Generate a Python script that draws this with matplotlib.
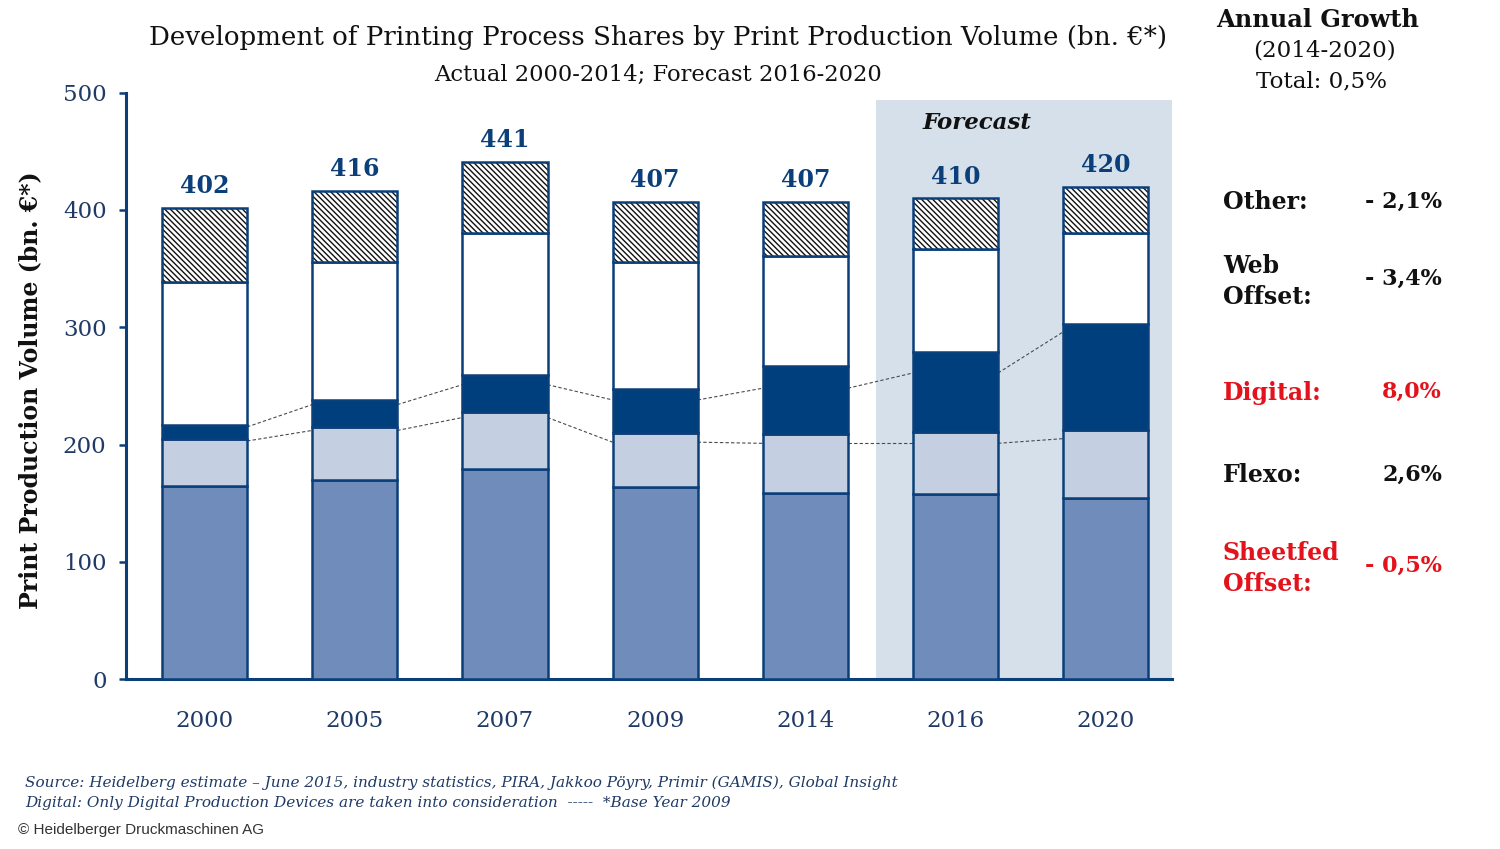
"""Printing process shares by print production volume, 2000-2020."""

import matplotlib.pyplot as plt
import numpy as np

# --- data (bn. EUR) ---
years = ["2000", "2005", "2007", "2009", "2014", "2016", "2020"]
sheetfed = [165, 170, 179, 164, 159, 158, 154]
flexo = [40, 45, 49, 46, 50, 53, 58]
digital = [12, 23, 31, 37, 58, 68, 91]
web_offset = [122, 118, 121, 109, 94, 88, 77]
other = [63, 60, 61, 51, 46, 43, 40]
totals = [402, 416, 441, 407, 407, 410, 420]

# hand-drawn dashed guide lines between bars
digital_guide = [215, 234, 251, 238, 248, 261, 296]
flexo_guide = [203, 212, 223, 202, 201, 201, 205]

forecast_start = 5  # index of first forecast year

growth_labels = ["Other:", "Web\nOffset:", "Digital:", "Flexo:", "Sheetfed\nOffset:"]
growth_values = ["- 2,1%", "- 3,4%", "8,0%", "2,6%", "- 0,5%"]
growth_highlight = [False, False, True, False, True]

NAVY = "#0b3f7a"
DIGITAL = "#003f7d"
SHEETFED = "#6f8cba"
FLEXO = "#c4d0e2"
FORECAST_BG = "#d6e0ea"
LABEL = "#1f3a66"
RED = "#e3121b"

plt.rcParams["font.family"] = ["DejaVu Serif"]
plt.rcParams["hatch.linewidth"] = 1.0

fig = plt.figure(figsize=(15, 8.49), dpi=100)
ax = fig.add_axes([0.084, 0.2002, 0.6973, 0.6906])

x = np.arange(len(years))
width = 0.567
xlim = (-0.523, 6.441)

# forecast shading
ax.axvspan(forecast_start - 0.531, xlim[1], ymax=494 / 500, color=FORECAST_BG, lw=0, zorder=0)
ax.text(forecast_start + 0.14, 474, "Forecast", ha="center", va="center",
        fontsize=16.5, fontweight="bold", fontstyle="italic", color="#111111")

bottom = np.zeros(len(years))
for values, color in [(sheetfed, SHEETFED), (flexo, FLEXO), (digital, DIGITAL), (web_offset, "white")]:
    ax.bar(x, values, width, bottom=bottom, color=color, edgecolor=NAVY, linewidth=1.8, zorder=3)
    bottom += np.array(values)

# hatched "other" segment: hatch in black, outline in navy
ax.bar(x, other, width, bottom=bottom, color="white", edgecolor="#111111", hatch="\\" * 6,
       linewidth=0, zorder=3)
ax.bar(x, other, width, bottom=bottom, fill=False, edgecolor=NAVY, linewidth=1.8, zorder=4)

# dashed guides
for guide in (digital_guide, flexo_guide):
    for i in range(len(years) - 1):
        ax.plot([x[i] + width / 2, x[i + 1] - width / 2], [guide[i], guide[i + 1]],
                color="#4a4a4a", lw=0.8, dashes=(3, 2), zorder=2)

for xi, total in zip(x, totals):
    ax.annotate(f"{total}", (xi, total), xytext=(0, 7), textcoords="offset points",
                ha="center", va="bottom", fontsize=17, fontweight="bold", color=NAVY)

ax.set_xlim(*xlim)
ax.set_ylim(0, 500)
ax.set_yticks(range(0, 501, 100))
ax.set_xticks(x)
ax.set_xticklabels(years)
ax.tick_params(axis="y", direction="out", length=5, width=1.8, color=NAVY,
               labelsize=16.5, labelcolor=LABEL, pad=9)
ax.tick_params(axis="x", length=0, labelsize=16.5, labelcolor=LABEL, pad=22)
for side in ("top", "right"):
    ax.spines[side].set_visible(False)
for side in ("left", "bottom"):
    ax.spines[side].set_color(NAVY)
    ax.spines[side].set_linewidth(2.2)

fig.text(0.02, 0.5406, "Print Production Volume (bn. €*)", rotation=90, ha="center", va="center",
         fontsize=17, fontweight="bold", color="#111111")

# titles
fig.text(0.4387, 0.956, "Development of Printing Process Shares by Print Production Volume (bn. €*)",
         ha="center", va="center", fontsize=18.8, color="#111111")
fig.text(0.4387, 0.912, "Actual 2000-2014; Forecast 2016-2020", ha="center", va="center",
         fontsize=16.3, color="#111111")

# right-hand growth panel
fig.text(0.8787, 0.9764, "Annual Growth", ha="center", va="center", fontsize=17.3,
         fontweight="bold", color="#111111")
fig.text(0.8827, 0.940, "(2014-2020)", ha="center", va="center", fontsize=16.6, color="#111111")
fig.text(0.8813, 0.9046, "Total: 0,5%", ha="center", va="center", fontsize=16.6, color="#111111")

label_y = [0.762, 0.6684, 0.537, 0.4405, 0.3304]
value_y = [0.762, 0.6714, 0.5383, 0.4405, 0.3333]
for lab, val, hi, ly, vy in zip(growth_labels, growth_values, growth_highlight, label_y, value_y):
    c = RED if hi else "#111111"
    fig.text(0.8153, ly, lab, ha="left", va="center", fontsize=17, fontweight="bold",
             color=c, linespacing=1.35)
    fig.text(0.9613, vy, val, ha="right", va="center", fontsize=16, fontweight="bold", color=c)

# footnotes
fig.text(0.0167, 0.0777, "Source: Heidelberg estimate – June 2015, industry statistics, PIRA, "
         "Jakkoo Pöyry, Primir (GAMIS), Global Insight", ha="left", va="center",
         fontsize=11, fontstyle="italic", color="#1f3a66")
fig.text(0.0167, 0.0542, "Digital: Only Digital Production Devices are taken into consideration  "
         "-----  *Base Year 2009", ha="left", va="center",
         fontsize=11, fontstyle="italic", color="#1f3a66")
fig.text(0.012, 0.0224, "© Heidelberger Druckmaschinen AG", ha="left", va="center",
         fontsize=11, family=["Liberation Sans"], color="#333333")

fig.savefig("out.png", dpi=100)
